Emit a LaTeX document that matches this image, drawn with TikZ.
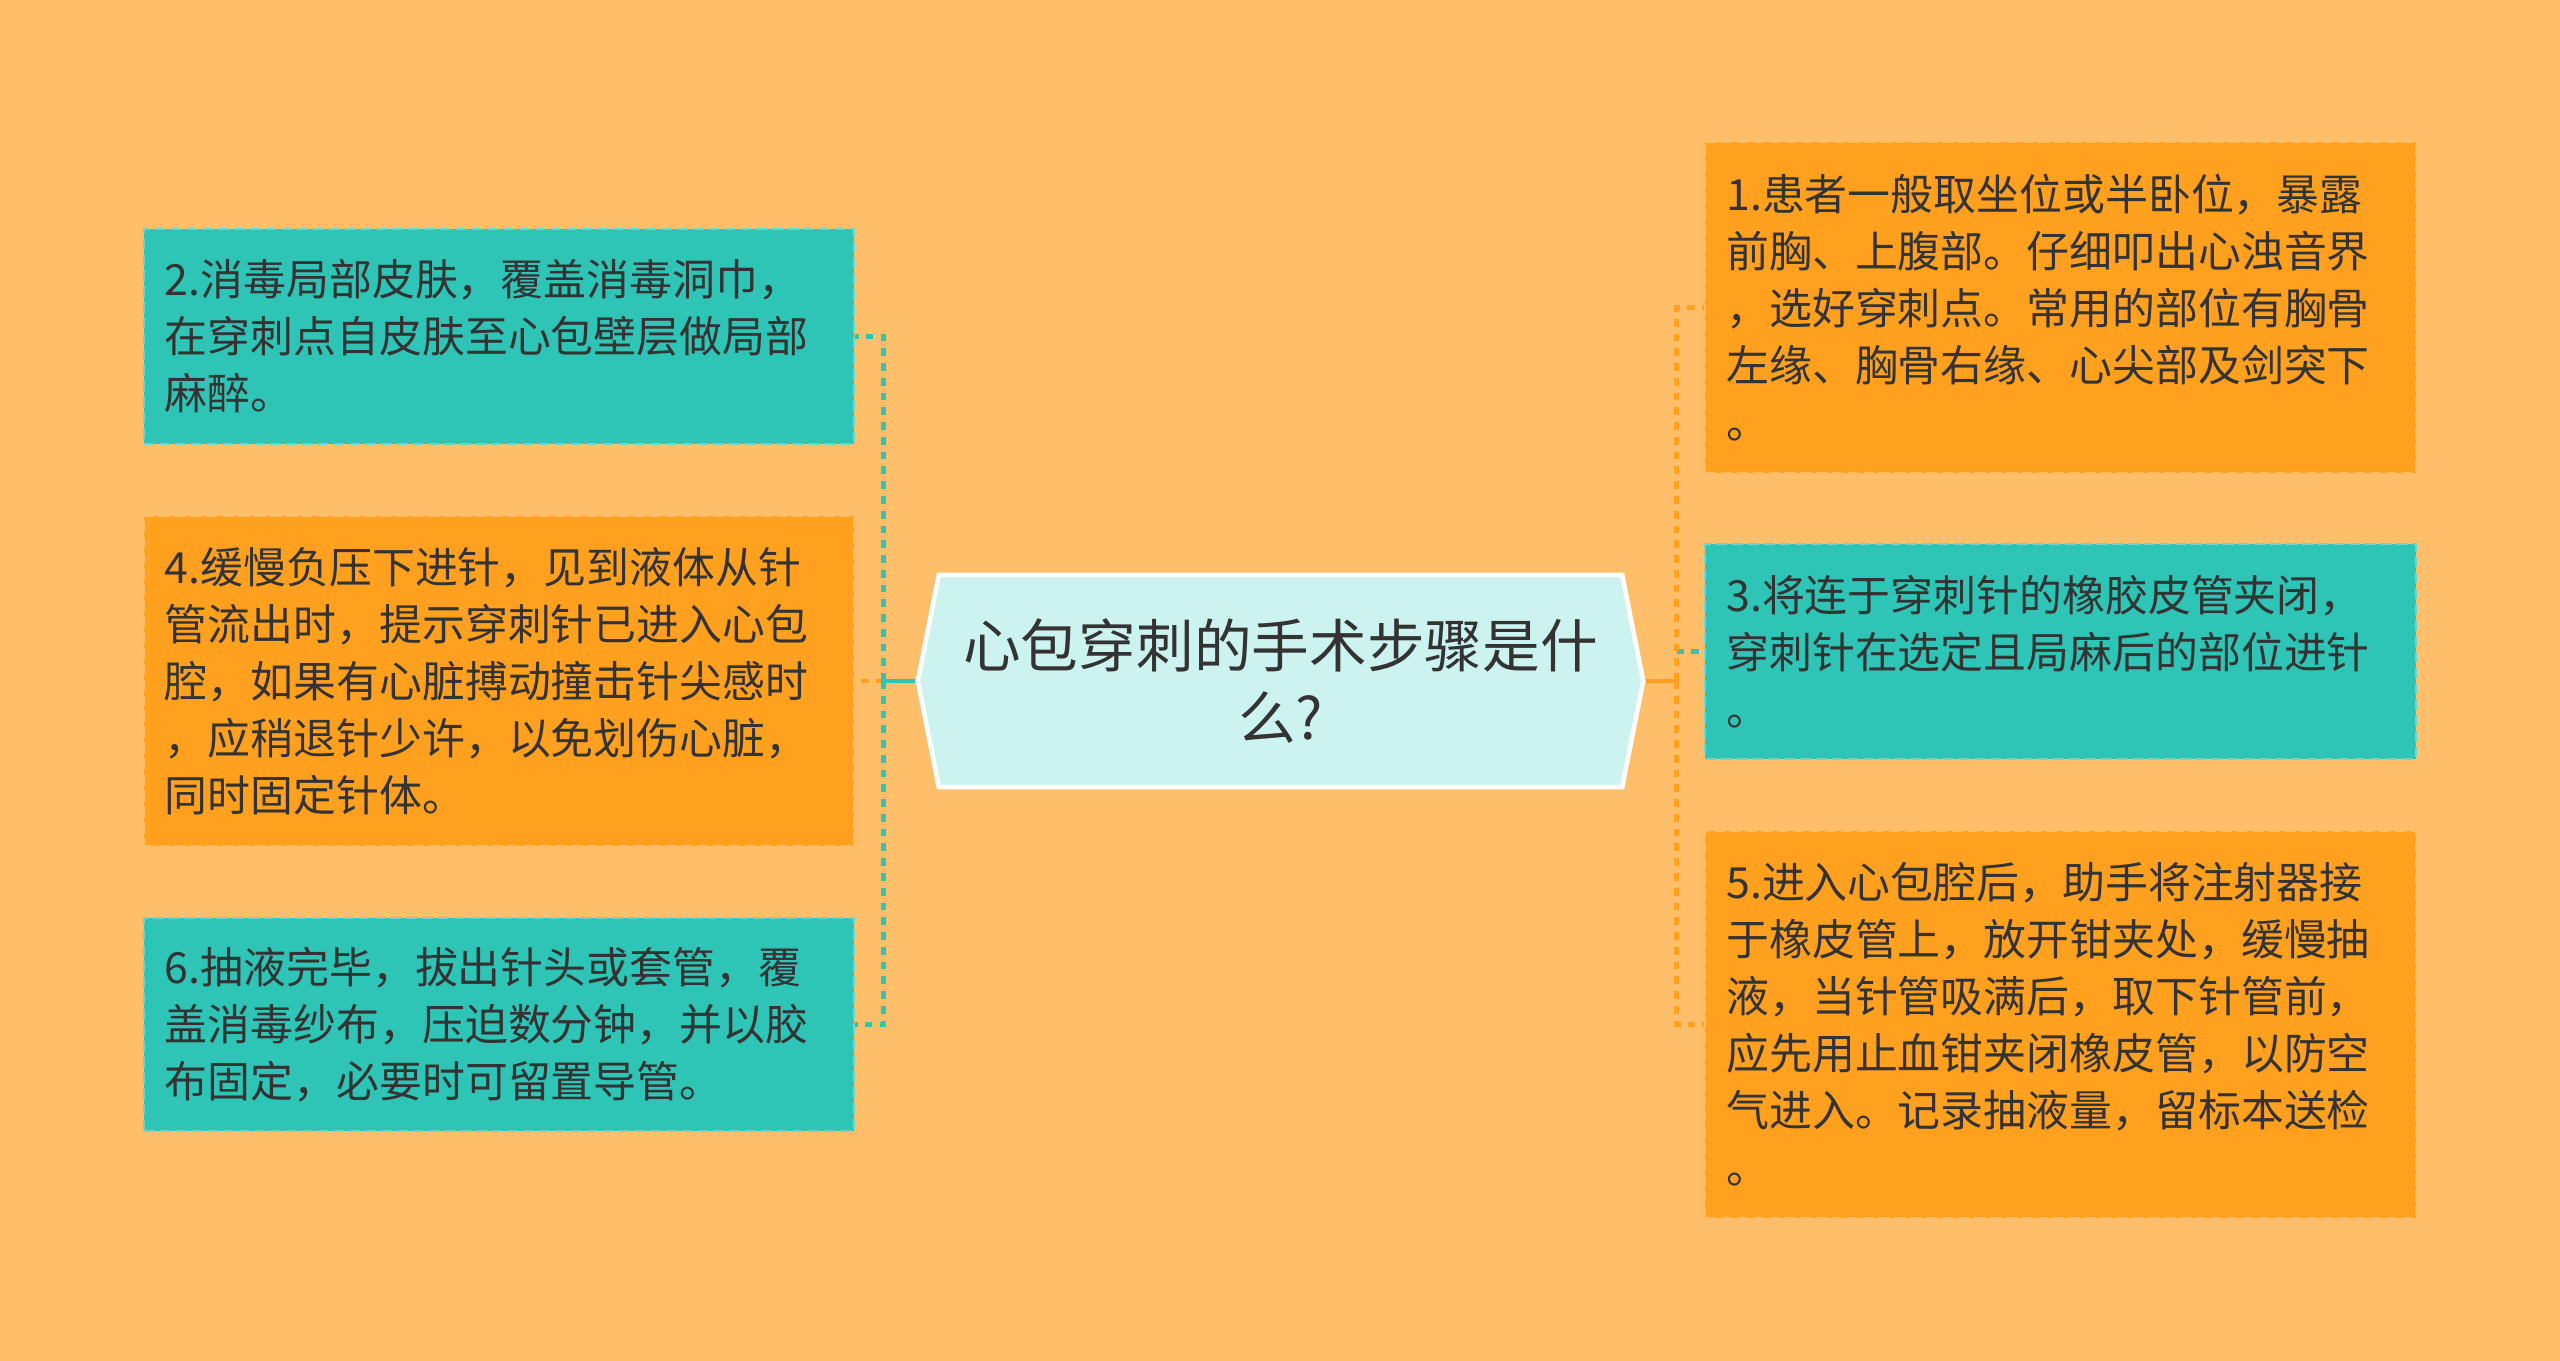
\documentclass[tikz,border=0pt]{standalone}
\usepackage{fontspec}
\newfontfamily\cjk{Noto Sans CJK SC}
\usepackage{tikz}
\usetikzlibrary{calc}
\usetikzlibrary{positioning}
\usetikzlibrary{shapes.symbols}

\definecolor{bgc}{HTML}{FFBE6A}
\definecolor{tealc}{HTML}{2EC4B6}
\definecolor{orangec}{HTML}{FFA11F}
\definecolor{hubc}{HTML}{CCF3F0}
\definecolor{inkc}{HTML}{333333}

\tikzset{
    stepbox/.style={rectangle, fill=#1, draw=#1!70!white, dash pattern=on 3pt off 1.5pt, line width=0.6pt,
        text=inkc, align=left, text width=6.68cm, inner xsep=0.21cm, inner ysep=0pt,
        font=\cjk\fontsize{12.2pt}{16.2pt}\selectfont},
    link/.style={line width=1.2pt, dash pattern=on 2.2pt off 2pt},
    stem/.style={line width=1.2pt, #1},
}

\begin{document}
\begin{tikzpicture}[x=0.01cm, y=-0.01cm]
    \fill[bgc] (0,0) rectangle (2560,1361);
    \useasboundingbox (0,0) rectangle (2560,1361);

    % centre topic
    \node[signal, signal to=west and east, signal pointer angle=157.6, fill=hubc, draw=white, line width=1.3pt,
          minimum width=7.25cm, minimum height=2.12cm, align=center, text=inkc,
          font=\cjk\fontsize{16.4pt}{20.7pt}\selectfont] (hub) at (1280.5,681)
          {心包穿刺的手术步骤是什\\么?};

    % left steps
    \node[stepbox=tealc, minimum height=2.15cm] (b2) at (499,336.5)
        {2.消毒局部皮肤，覆盖消毒洞巾，\\在穿刺点自皮肤至心包壁层做局部\\麻醉。};
    \node[stepbox=orangec, minimum height=3.30cm] (b4) at (499,681)
        {4.缓慢负压下进针，见到液体从针\\管流出时，提示穿刺针已进入心包\\腔，如果有心脏搏动撞击针尖感时\\，应稍退针少许，以免划伤心脏，\\同时固定针体。};
    \node[stepbox=tealc, minimum height=2.13cm] (b6) at (499,1024.5)
        {6.抽液完毕，拔出针头或套管，覆\\盖消毒纱布，压迫数分钟，并以胶\\布固定，必要时可留置导管。};

    % right steps
    \node[stepbox=orangec, minimum height=3.31cm] (b1) at (2060.5,307.5)
        {1.患者一般取坐位或半卧位，暴露\\前胸、上腹部。仔细叩出心浊音界\\，选好穿刺点。常用的部位有胸骨\\左缘、胸骨右缘、心尖部及剑突下\\。};
    \node[stepbox=tealc, minimum height=2.15cm] (b3) at (2060.5,651.5)
        {3.将连于穿刺针的橡胶皮管夹闭，\\穿刺针在选定且局麻后的部位进针\\。};
    \node[stepbox=orangec, minimum height=3.87cm] (b5) at (2060.5,1024.5)
        {5.进入心包腔后，助手将注射器接\\于橡皮管上，放开钳夹处，缓慢抽\\液，当针管吸满后，取下针管前，\\应先用止血钳夹闭橡皮管，以防空\\气进入。记录抽液量，留标本送检\\。};

    % branches
    \coordinate (lj) at ($(hub.west)+(-32,0)$);
    \coordinate (rj) at ($(hub.east)+(31,0)$);
    \foreach \b/\c in {b4/orangec, b2/tealc, b6/tealc}
        \draw[link, \c] (lj) |- (\b.east);
    \foreach \b/\c in {b3/tealc, b1/orangec, b5/orangec}
        \draw[link, \c] (rj) |- (\b.west);
    \draw[stem=tealc] (hub.west) -- (lj);
    \draw[stem=orangec] (hub.east) -- (rj);
\end{tikzpicture}
\end{document}
